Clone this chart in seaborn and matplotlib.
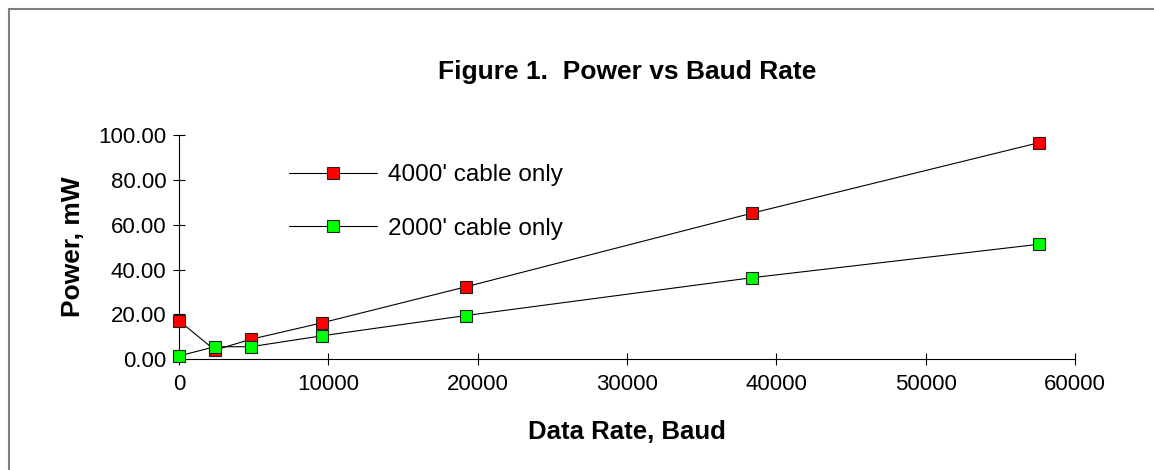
import pandas as pd
import numpy as np
import matplotlib.pyplot as plt
import seaborn as sns
from matplotlib.patches import Rectangle
from matplotlib.ticker import FormatStrFormatter

# baud rates and measured power (mW)
baud = [0, 2400, 4800, 9600, 19200, 38400, 57600]
power_4000 = [17.2, 4.1, 8.9, 16.3, 32.3, 65.2, 96.6]
power_2000 = [1.5, 5.6, 5.6, 10.5, 19.5, 36.4, 51.3]
labels = ["4000' cable only", "2000' cable only"]
colors = ['#ff0000', '#00ff00']

df = pd.DataFrame({'baud': baud * 2,
                   'power': power_4000 + power_2000,
                   'cable': [labels[0]] * len(baud) + [labels[1]] * len(baud)})

sns.set_style('white')
plt.rcParams['font.family'] = ['Liberation Sans', 'DejaVu Sans']

W, H = 1154, 470
fig = plt.figure(figsize=(W / 100, H / 100), dpi=100)
ax = fig.add_axes([179 / W, 1 - 359.3 / H, 896 / W, 224.3 / H])

for lab, col in zip(labels, colors):
    sns.lineplot(data=df[df['cable'] == lab], x='baud', y='power', ax=ax,
                 color='black', linewidth=0.8, marker='s', markersize=8,
                 markerfacecolor=col, markeredgecolor='#222222',
                 markeredgewidth=0.8, label=lab, clip_on=False, zorder=3)

ax.set_xlim(0, 60000)
ax.set_ylim(0, 100)
ax.set_xticks(np.arange(0, 60001, 10000))
ax.set_yticks(np.arange(0, 101, 20))
ax.yaxis.set_major_formatter(FormatStrFormatter('%.2f'))
ax.tick_params(bottom=True, left=True, direction='inout', length=8.5, width=0.8,
               labelsize=16, color='black', labelcolor='black')
ax.tick_params(axis='x', pad=6)
ax.tick_params(axis='y', pad=5)

for s in ['top', 'right']:
    ax.spines[s].set_visible(False)
for s in ['left', 'bottom']:
    ax.spines[s].set_color('black')
    ax.spines[s].set_linewidth(0.8)

ax.set_title('Figure 1.  Power vs Baud Rate', fontsize=19, fontweight='bold',
             pad=40, color='black')
ax.set_xlabel('Data Rate, Baud', fontsize=18.5, fontweight='bold', color='black')
ax.set_ylabel('Power, mW', fontsize=19, fontweight='bold', color='black')
ax.xaxis.set_label_coords(0.5, -0.27)
ax.yaxis.set_label_coords(-0.105, 0.5)

handles, labs = ax.get_legend_handles_labels()
leg = ax.legend(handles, labs, loc='upper left', bbox_to_anchor=(289 / W, 1 - 164 / H),
                bbox_transform=fig.transFigure, frameon=False, fontsize=17.5,
                handlelength=3.62, handletextpad=0.45, labelspacing=1.3,
                borderpad=0, borderaxespad=0, numpoints=1)
for t in leg.get_texts():
    t.set_color('black')

fig.add_artist(Rectangle((9 / W, -0.1), 1.2, 1 - 9 / H + 0.1, transform=fig.transFigure,
                         fill=False, edgecolor='#808080', linewidth=1.5))

fig.savefig('out.png', dpi=100)
